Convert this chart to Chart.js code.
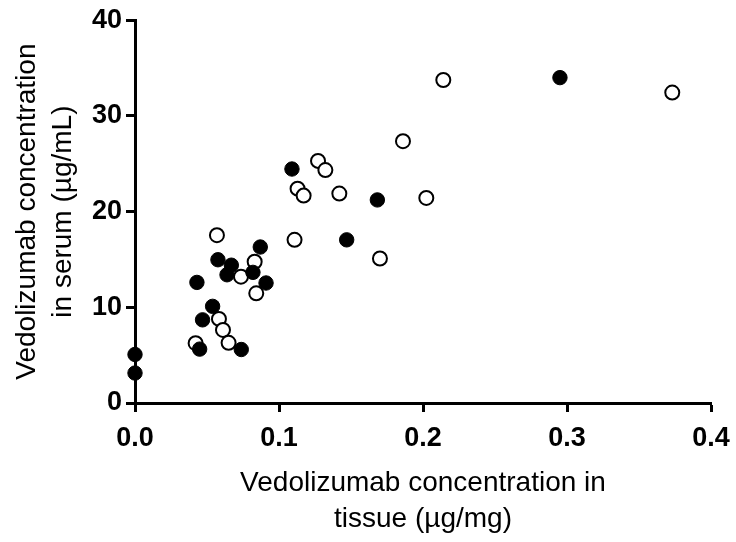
<!DOCTYPE html>
<html>
<head>
<meta charset="utf-8">
<script src="https://cdn.jsdelivr.net/npm/chart.js@4/dist/chart.umd.min.js"></script>
<style>
  html, body { margin: 0; padding: 0; background: #fff; }
  #wrap { width: 736px; height: 542px; }
</style>
</head>
<body>
<div id="wrap"><canvas id="chartVedo" width="736" height="542"></canvas></div>
<script>
// --- datos ---
const xTicks = [0, 0.1, 0.2, 0.3, 0.4];
const yTicks = [0, 10, 20, 30, 40];
const xTitleLines = ['Vedolizumab concentration in', 'tissue (µg/mg)'];
const yTitleLines = ['Vedolizumab concentration', 'in serum (µg/mL)'];

// puntos rellenos (negros)
const filledX = [0, 0, 0.043, 0.0449, 0.0469, 0.0539, 0.0576, 0.0639, 0.0669, 0.0738, 0.0819, 0.087, 0.091, 0.109, 0.147, 0.1683, 0.2951];
const filledY = [5.07, 3.13, 12.6, 5.63, 8.69, 10.1, 14.97, 13.4, 14.4, 5.59, 13.65, 16.3, 12.54, 24.45, 17.05, 21.22, 34.0];

// puntos abiertos (blancos)
const openX = [0.0421, 0.0569, 0.0583, 0.0611, 0.065, 0.0736, 0.0831, 0.0842, 0.1108, 0.1129, 0.1171, 0.1271, 0.1322, 0.1419, 0.1701, 0.1861, 0.2023, 0.2141, 0.3731];
const openY = [6.25, 17.54, 8.79, 7.64, 6.29, 13.2, 14.76, 11.46, 17.05, 22.4, 21.67, 25.3, 24.34, 21.88, 15.1, 27.36, 21.43, 33.75, 32.44];

const toPts = (xs, ys) => xs.map((x, i) => ({ x: x, y: ys[i] }));

const FONT = "Arial, 'Liberation Sans', sans-serif";

let ctx = document.getElementById('chartVedo').getContext('2d');
let chartVedo = new Chart(ctx, {
    type: 'scatter',
    data: {
        datasets: [
            {
                label: 'filled',
                data: toPts(filledX, filledY),
                pointRadius: 7.2,
                pointBackgroundColor: '#000000',
                pointBorderColor: '#000000',
                pointBorderWidth: 1,
                order: 0
            },
            {
                label: 'open',
                data: toPts(openX, openY),
                pointRadius: 7,
                pointBackgroundColor: '#ffffff',
                pointBorderColor: '#000000',
                pointBorderWidth: 2,
                order: 1
            }
        ]
    },
    options: {
        responsive: false,
        animation: false,
        clip: false,
        layout: { padding: { left: 9, right: 25, top: 19, bottom: 5 } },
        plugins: { legend: { display: false }, tooltip: { enabled: false } },
        scales: {
            x: {
                type: 'linear',
                min: 0, max: 0.4,
                afterBuildTicks: (s) => { s.ticks = xTicks.map(v => ({ value: v })); },
                afterFit: (s) => {
                    s.height = 542 - 403 - 5;
                    // la etiqueta 0.4 puede salirse del area, como en el original
                    s.paddingLeft = 0;
                    s.paddingRight = 0;
                },
                border: { display: true, color: '#000', width: 3 },
                grid: { display: true, drawOnChartArea: false, drawTicks: true, tickLength: 9, tickWidth: 3, tickColor: '#000' },
                ticks: {
                    color: '#000', padding: 10,
                    font: { family: FONT, size: 27, weight: 'bold' },
                    callback: (v) => v.toFixed(1)
                },
                title: {
                    display: true,
                    text: xTitleLines,
                    color: '#000',
                    font: { family: FONT, size: 28, lineHeight: 1.29 },
                    padding: { top: 0, bottom: 0 }
                }
            },
            y: {
                type: 'linear',
                min: 0, max: 40,
                afterBuildTicks: (s) => { s.ticks = yTicks.map(v => ({ value: v })); },
                afterFit: (s) => { s.width = 135 - 9; },
                border: { display: true, color: '#000', width: 3 },
                grid: { display: true, drawOnChartArea: false, drawTicks: true, tickLength: 9, tickWidth: 3, tickColor: '#000' },
                ticks: {
                    color: '#000', padding: 4,
                    font: { family: FONT, size: 27, weight: 'bold' }
                },
                title: {
                    display: true,
                    text: yTitleLines,
                    color: '#000',
                    font: { family: FONT, size: 28, lineHeight: 1.29 },
                    padding: { top: 0, bottom: 0 }
                }
            }
        }
    }
});
</script>
</body>
</html>
